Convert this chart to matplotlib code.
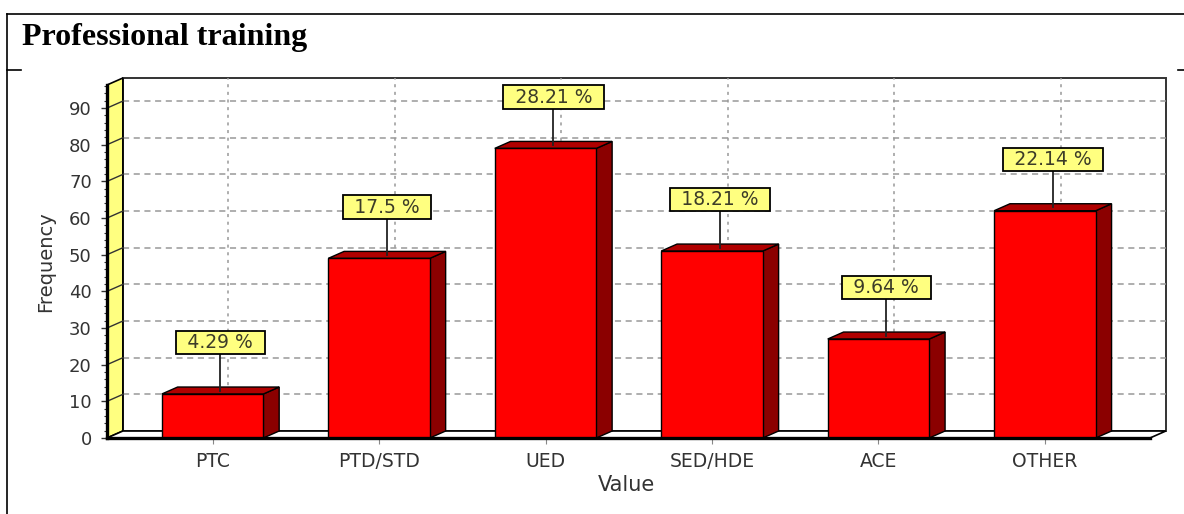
"""Professional training — 3-D style frequency bar chart with percentage call-outs."""

import matplotlib
matplotlib.use("Agg")
import matplotlib.pyplot as plt
from matplotlib.patches import Polygon, Rectangle
from matplotlib.lines import Line2D

categories = ["PTC", "PTD/STD", "UED", "SED/HDE", "ACE", "OTHER"]
counts = [12, 49, 79, 51, 27, 62]
pct_labels = ["4.29 %", "17.5 %", "28.21 %", "18.21 %", "9.64 %", "22.14 %"]
y_ticks = list(range(0, 100, 10))

BAR_W = 0.61
DX, DY = 0.095, 1.9          # 3-D depth offset in data units
XMIN, XMAX = -0.634, 5.631
YMAX = 96.3
TEXT = "#333333"
YELLOW = "#FFFF80"

fig = plt.figure(figsize=(11.84, 5.14), dpi=100)
ax = fig.add_axes([0.0904, 0.1479, 0.8809, 0.6868])
ax.set_xlim(XMIN, XMAX)
ax.set_ylim(0, YMAX)
ax.patch.set_visible(False)
for s in ("top", "right"):
    ax.spines[s].set_visible(False)
for s in ("left", "bottom"):
    ax.spines[s].set_linewidth(2.4)
    ax.spines[s].set_zorder(6)

# back wall, side wall, floor
ax.add_patch(Rectangle((XMIN + DX, DY), XMAX - XMIN, YMAX, fc="white", ec="#333333",
                       lw=1.4, clip_on=False, zorder=0.5))
ax.add_patch(Polygon([(XMIN, 0), (XMIN, YMAX), (XMIN + DX, YMAX + DY), (XMIN + DX, DY)],
                     closed=True, fc=YELLOW, ec="black", lw=1.2, clip_on=False, zorder=1))
ax.add_patch(Polygon([(XMIN, 0), (XMAX, 0), (XMAX + DX, DY), (XMIN + DX, DY)],
                     closed=True, fc="white", ec="black", lw=1.2, clip_on=False, zorder=1))

# grid on the back wall + slanted ticks across the side wall
for y in y_ticks[1:]:
    ax.plot([XMIN + DX, XMAX + DX], [y + DY, y + DY], color="#999999", lw=1.1,
            ls=(0, (4, 3)), clip_on=False, zorder=0.8)
    ax.plot([XMIN, XMIN + DX], [y, y + DY], color="#333333", lw=1.0,
            clip_on=False, zorder=1.5)
for i in range(len(categories)):
    ax.plot([i + DX, i + DX], [DY, YMAX + DY], color="#999999", lw=1.1,
            ls=(0, (2, 3)), clip_on=False, zorder=0.8)

# bars
for i, v in enumerate(counts):
    x0, x1 = i - BAR_W / 2, i + BAR_W / 2
    ax.add_patch(Polygon([(x1, 0), (x1, v), (x1 + DX, v + DY), (x1 + DX, DY)],
                         closed=True, fc="#8B0000", ec="black", lw=1.0, zorder=3))
    ax.add_patch(Polygon([(x0, v), (x1, v), (x1 + DX, v + DY), (x0 + DX, v + DY)],
                         closed=True, fc="#B00000", ec="black", lw=1.0, zorder=3))
    ax.add_patch(Rectangle((x0, 0), BAR_W, v, fc="#FF0000", ec="black", lw=1.0, zorder=3.5))

# percentage call-outs
for i, (v, lab) in enumerate(zip(counts, pct_labels)):
    xc = i + DX / 2
    ax.plot([xc, xc], [v + DY / 2, v + 14], color="#222222", lw=1.3, zorder=4)
    ax.text(xc, v + 14, f"\u2002{lab}\u2002", ha="center", va="center", fontsize=13.5,
            color="#3c3c28", zorder=5,
            bbox=dict(boxstyle="square,pad=0.12", fc=YELLOW, ec="black", lw=1.3))

ax.set_xticks(range(len(categories)), categories)
ax.set_yticks(y_ticks)
ax.set_yticks(range(0, 97, 2), minor=True)
ax.tick_params(axis="x", length=4, color="#888888", pad=6, labelsize=13.5, labelcolor=TEXT)
ax.tick_params(axis="y", which="major", length=4, width=1, color="#333333", pad=7,
               labelsize=13, labelcolor=TEXT)
ax.tick_params(axis="y", which="minor", length=2, width=0.8, color="#333333")

ax.set_xlabel("Value", fontsize=15, color=TEXT, va="center")
ax.xaxis.set_label_coords(0.4976, -0.133)
ax.set_ylabel("Frequency", fontsize=14, color=TEXT, va="center")
ax.yaxis.set_label_coords(-0.0585, 0.5)

# table-cell frame and title
W, H = 1184, 514
fig.add_artist(Line2D([7 / W, 1], [1 - 14 / H] * 2, color="black", lw=1.2))
fig.add_artist(Line2D([7 / W, 7 / W], [0, 1 - 14 / H], color="black", lw=1.2))
fig.add_artist(Line2D([7 / W, 21 / W], [1 - 70 / H] * 2, color="black", lw=1.2))
fig.add_artist(Line2D([1178 / W, 1], [1 - 70 / H] * 2, color="black", lw=1.2))
fig.text(22 / W, 1 - 45 / H, "Professional training", fontfamily="Liberation Serif",
         fontweight="bold", fontsize=23, va="baseline")

fig.savefig("out.png", dpi=100)
